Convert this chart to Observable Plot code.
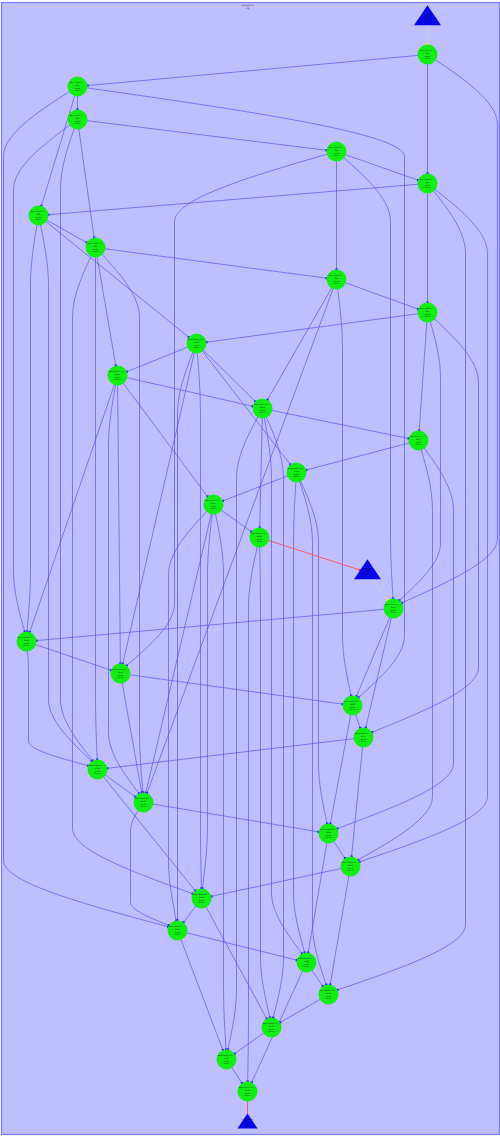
<!DOCTYPE html>
<html><head><meta charset="utf-8">
<script src="https://cdn.jsdelivr.net/npm/d3@7"></script>
<script src="https://cdn.jsdelivr.net/npm/@observablehq/plot@0.6"></script>
<style>html,body{margin:0;padding:0;background:#fff}svg{display:block}</style>
</head><body><div id="chart"></div>
<script>
// ---- nodes ----
const nodeIds = ["T1","N1","N2","N3","N4","N5","N6","N7","N8","N9","N10","N11","N12","N13","N14","N15","N16","T2","N17","N18","N19","N20","N21","N22","N23","N24","N25","N26","N27","N28","N29","N30","N31","N32","T3"];
const nodeX = [427,427,77,77,336,427,38,95,336,427,196,117,262,418,296,213,259,367,393,26,120,352,363,97,143,328,350,201,177,306,328,271,226,247,247];
const nodeY = [18,54,86,119,151,183,215,247,279,312,343,375,408,440,472,504,537,572,608,641,673,705,737,769,802,833,866,898,930,962,994,1027,1059,1091,1123];
const nodeShape = ["triangle","circle","circle","circle","circle","circle","circle","circle","circle","circle","circle","circle","circle","circle","circle","circle","circle","triangle","circle","circle","circle","circle","circle","circle","circle","circle","circle","circle","circle","circle","circle","circle","circle","circle","triangle"];
const nodeSize = [10,10,10,10,10,10,10,10,10,10,10,10,10,10,10,10,10,10,10,10,10,10,10,10,10,10,10,10,10,10,10,10,10,10,7.5];

// ---- edges ----
const edgeFrom = ["T1","N1","N1","N1","N2","N2","N2","N2","N3","N3","N3","N3","N4","N4","N4","N4","N5","N5","N5","N5","N6","N6","N6","N6","N7","N7","N7","N7","N7","N8","N8","N8","N8","N9","N9","N9","N9","N10","N10","N10","N10","N10","N10","N11","N11","N11","N11","N11","N12","N12","N12","N12","N12","N13","N13","N13","N14","N14","N14","N14","N15","N15","N15","N15","N15","N16","N16","N16","T2","N17","N17","N17","N18","N18","N19","N19","N20","N20","N21","N21","N22","N22","N23","N23","N24","N24","N25","N25","N26","N26","N27","N27","N28","N28","N29","N30","N31","N32"];
const edgeTo   = ["N1","N2","N5","N17","N3","N6","N20","N27","N4","N7","N18","N22","N5","N8","N17","N19","N6","N9","N25","N29","N7","N10","N18","N22","N8","N11","N22","N23","N26","N9","N12","N20","N23","N10","N13","N17","N21","N11","N12","N14","N19","N26","N27","N12","N15","N18","N19","N23","N13","N16","N28","N31","N30","N14","N24","N25","N15","N24","N28","N29","N16","N23","N27","N26","N31","T2","N32","N30","N17","N18","N20","N21","N19","N22","N20","N23","N21","N24","N22","N25","N23","N26","N24","N27","N25","N28","N26","N29","N27","N30","N28","N31","N29","N32","N30","N31","N32","T3"];
const edgeLane = [null,null,null,497,null,null,404,3,null,null,13,60,null,null,390,174,null,null,487,465,null,null,30,48,null,null,95,139,72,null,null,342,null,null,null,440,478,null,null,null,null,200,177,null,null,null,null,108,null,null,271,236,283,null,453,432,null,318,293,312,null,null,168,207,223,null,248,260,null,null,null,null,null,28,null,null,null,null,null,null,null,null,null,130,null,null,null,null,null,null,null,null,null,null,null,null,null,null];
const edgeKind = edgeFrom.map((f,i) => f.startsWith("T") ? "entry" : edgeTo[i].startsWith("T") ? "error" : "flow");

// ---- text ----
const graphLabel = "digraph G\ncfg";
const nodeLabels = nodeIds.map((id,i) => nodeShape[i]==="triangle"
  ? (id==="T1" ? "entry block\nfunc\nstart\n----" : id==="T2" ? "abort block\ncall\nexit\n----" : "return block\nret\nend\n----")
  : `basic block ${id.slice(1)} ----\nbb${id.slice(1)}\npreds\n---- succs ----`);

// ---- geometry derived from data ----
const pos = new Map(nodeIds.map((id,i)=>[id,{x:nodeX[i],y:nodeY[i],shape:nodeShape[i],r:nodeSize[i]}]));
const edgePts = [], arrowPts = [];
edgeFrom.forEach((f,i)=>{
  const s = pos.get(f), t = pos.get(edgeTo[i]), lane = edgeLane[i], kind = edgeKind[i];
  const pts = [[s.x,s.y]];
  const dy = t.y - s.y;
  if (lane != null) { const d = Math.min(70, dy*0.22); pts.push([lane, s.y+d],[lane, t.y-d]); }
  const prev = pts[pts.length-1];
  const vx = prev[0]-t.x, vy = prev[1]-t.y, L = Math.hypot(vx,vy);
  const rr = t.shape==="circle" ? t.r : t.r*0.8;
  const end = [t.x + vx/L*rr, t.y + vy/L*rr];
  pts.push(end);
  pts.forEach(([x,y])=>edgePts.push({edge:i,x,y,kind}));
  arrowPts.push({x:end[0],y:end[1],kind});
});

const circles = nodeIds.map((id,i)=>({id,x:nodeX[i],y:nodeY[i],r:nodeSize[i],label:nodeLabels[i],shape:nodeShape[i]}));
const triSymbol = {draw(ctx,size){const k=Math.sqrt(size/Math.PI)/10;ctx.moveTo(0,-13.3*k);ctx.lineTo(13.5*k,6.7*k);ctx.lineTo(-13.5*k,6.7*k);ctx.closePath();}};

const chart = Plot.plot({
  width:500, height:1136, margin:0,
  x:{domain:[0,500], range:[0,500], axis:null},
  y:{domain:[0,1136], range:[0,1136], axis:null},
  style:{background:"#ffffff"},
  marks:[
    Plot.frame({fill:"#bfbfff", stroke:"#7a7aff", strokeWidth:1.2, insetLeft:1, insetRight:1, insetTop:2, insetBottom:2}),
    Plot.line(edgePts.filter(d=>d.kind==="flow"), {x:"x", y:"y", z:"edge", curve:"monotone-y", stroke:"#4c4cf0", strokeOpacity:0.75, strokeWidth:0.85}),
    Plot.line(edgePts.filter(d=>d.kind==="entry"), {x:"x", y:"y", z:"edge", stroke:"#d0d0d0", strokeWidth:0.8}),
    Plot.line(edgePts.filter(d=>d.kind==="error"), {x:"x", y:"y", z:"edge", stroke:"#ff4c4c", strokeWidth:0.9}),
    Plot.dot(arrowPts, {x:"x", y:"y", r:1.3, symbol:"square", fill:d=>d.kind==="flow"?"#2a2aff":d.kind==="entry"?"#f4f400":"#ff2020"}),
    Plot.dot(circles.filter(d=>d.shape==="circle"), {x:"x", y:"y", r:"r", fill:"#11ee11"}),
    Plot.dot(circles.filter(d=>d.shape==="triangle"), {x:"x", y:"y", r:"r", symbol:triSymbol, fill:"#0505e6"}),
    Plot.text(circles, {x:"x", y:"y", text:"label", fontSize:1.9, lineHeight:1.35, fill:"#111", fontFamily:"DejaVu Sans"}),
    Plot.text([graphLabel], {x:()=>247, y:()=>6, text:d=>d, fontSize:2.4, lineHeight:1.2, fill:"#333", fontFamily:"DejaVu Sans"})
  ],
  r:{type:"identity"}
});
document.getElementById("chart").appendChild(chart);
</script>
</body></html>
